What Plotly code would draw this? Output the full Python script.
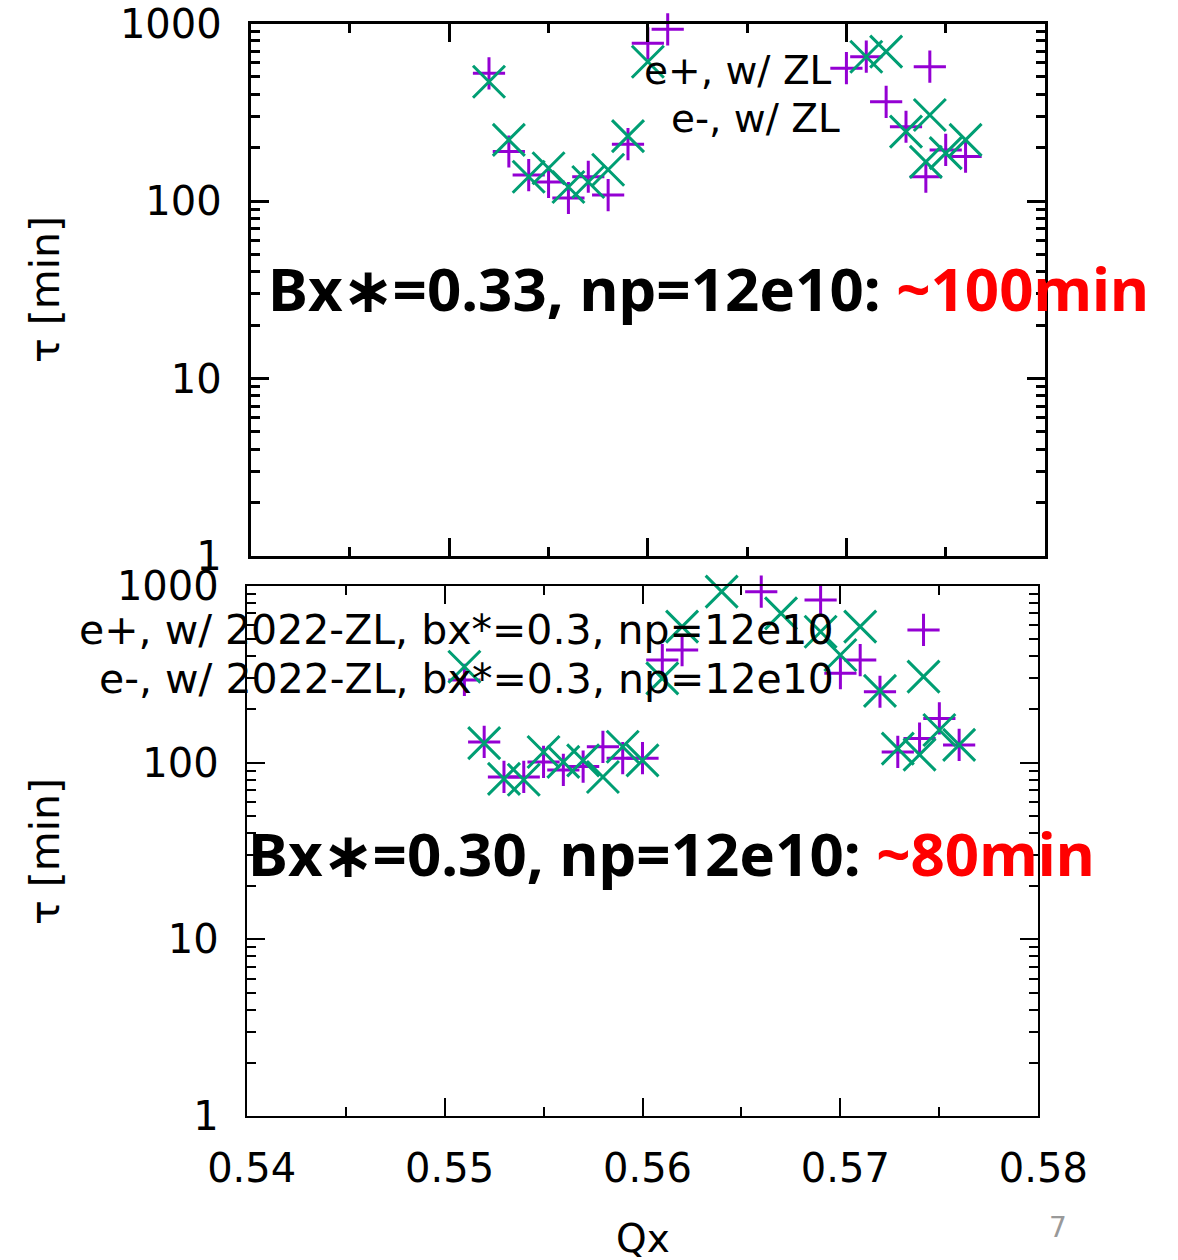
import plotly.graph_objects as go

# ---- data ----
qx_top_ep = [0.552, 0.553, 0.554, 0.555, 0.556, 0.557, 0.558, 0.559, 0.560, 0.561,
             0.570, 0.571, 0.572, 0.573, 0.574, 0.5742, 0.575, 0.576]
tau_top_ep = [524, 190, 140, 128, 104, 137, 108, 209, 773, 927,
              560, 650, 362, 262, 137, 571, 194, 178]
qx_top_em = [0.552, 0.553, 0.554, 0.555, 0.556, 0.557, 0.558, 0.559, 0.560,
             0.571, 0.572, 0.573, 0.574, 0.5742, 0.575, 0.576]
tau_top_em = [470, 221, 137, 153, 120, 128, 150, 232, 609,
              650, 694, 246, 166, 305, 186, 221]

qx_bot_ep = [0.551, 0.552, 0.553, 0.554, 0.555, 0.556, 0.557, 0.558, 0.559, 0.560, 0.561,
             0.562, 0.566, 0.569, 0.570, 0.571, 0.572, 0.5729, 0.574, 0.5742, 0.575, 0.576]
tau_bot_ep = [294, 131, 83, 83, 101, 91, 95, 123, 106, 106, 381,
              434, 929, 833, 321, 381, 252, 115, 137, 564, 178, 126]
qx_bot_em = [0.551, 0.552, 0.553, 0.554, 0.555, 0.556, 0.557, 0.558, 0.559, 0.560, 0.561,
             0.562, 0.564, 0.567, 0.569, 0.570, 0.571, 0.572, 0.5729, 0.574, 0.5742, 0.575, 0.576]
tau_bot_em = [349, 129, 81, 80, 115, 101, 103, 83, 123, 103, 300,
              589, 929, 700, 551, 407, 589, 255, 120, 111, 307, 153, 126]

x_ticks = [0.54, 0.55, 0.56, 0.57, 0.58]
y_ticks = [1, 10, 100, 1000]
y_minor = [m * d for d in (1, 10, 100) for m in range(2, 10)]

W, H = 1178, 1260
PURPLE = "#9400D3"
GREEN = "#009E73"
FONT = "DejaVu Sans"


def px(x):
    return x / W


def py(y):
    return 1 - y / H


fig = go.Figure()


def add_pair(xs1, ys1, xs2, ys2, xa, ya):
    fig.add_trace(go.Scatter(x=xs1, y=ys1, mode="markers", xaxis=xa, yaxis=ya,
                             marker=dict(symbol="cross-thin", size=23, color=PURPLE,
                                         line=dict(color=PURPLE, width=3)),
                             cliponaxis=False, showlegend=False))
    fig.add_trace(go.Scatter(x=xs2, y=ys2, mode="markers", xaxis=xa, yaxis=ya,
                             marker=dict(symbol="x-thin", size=32, color=GREEN,
                                         line=dict(color=GREEN, width=3)),
                             cliponaxis=False, showlegend=False))


add_pair(qx_top_ep, tau_top_ep, qx_top_em, tau_top_em, "x", "y")
add_pair(qx_bot_ep, tau_bot_ep, qx_bot_em, tau_bot_em, "x2", "y2")


def xaxis(dom, show_labels, lw):
    return dict(domain=dom, range=[0.54, 0.58], tickvals=x_ticks,
                ticktext=[f"{v:.2f}" for v in x_ticks], automargin=False,
                showticklabels=show_labels, ticks="inside", ticklen=18, tickwidth=lw,
                minor=dict(tickvals=[0.545, 0.555, 0.565, 0.575], ticks="inside",
                           ticklen=9, tickwidth=lw, tickcolor="black"),
                showline=True, linecolor="black", linewidth=lw, mirror="allticks",
                showgrid=False, zeroline=False, tickcolor="black",
                tickfont=dict(family=FONT, size=40, color="black"),
                ticklabelstandoff=16, ticklabelshift=5)


def yaxis(dom, anchor, lw):
    return dict(domain=dom, anchor=anchor, type="log", range=[0, 3], tickvals=y_ticks,
                ticktext=[str(v) for v in y_ticks], ticks="inside", ticklen=18,
                tickwidth=lw, tickcolor="black", automargin=False,
                minor=dict(tickvals=y_minor, ticks="inside", ticklen=9,
                           tickwidth=lw, tickcolor="black"),
                showline=True, linecolor="black", linewidth=lw, mirror="allticks",
                showgrid=False, zeroline=False,
                tickfont=dict(family=FONT, size=40, color="black"),
                ticklabelstandoff=18)


fig.update_layout(
    width=W, height=H, margin=dict(l=0, r=0, t=0, b=0, autoexpand=False),
    paper_bgcolor="white", plot_bgcolor="white",
    xaxis=xaxis([px(250.7), px(1045)], False, 3) | dict(anchor="y"),
    yaxis=yaxis([py(556), py(23.5)], "x", 3),
    xaxis2=xaxis([px(246.7), px(1038.3)], True, 2) | dict(anchor="y2"),
    yaxis2=yaxis([py(1116), py(586)], "x2", 2),
)

ann = []


def txt(x, y, s, size, xanchor="center", color="black", family=FONT, angle=0):
    ann.append(dict(x=px(x), y=py(y), xref="paper", yref="paper", text=s,
                    showarrow=False, xanchor=xanchor, yanchor="middle",
                    textangle=angle,
                    font=dict(family=family, size=size, color=color)))


# legends
txt(834, 70, "e+, w/ ZL", 39, xanchor="right")
txt(842, 118, "e-, w/ ZL", 39, xanchor="right")
txt(836, 630, "e+, w/ 2022-ZL, bx*=0.3, np=12e10", 41, xanchor="right")
txt(836, 679, "e-, w/ 2022-ZL, bx*=0.3, np=12e10", 41, xanchor="right")

# big annotations
txt(266, 288, "<b>Bx∗=0.33, np=12e10: <span style='color:#FF0000'>~100min</span></b>",
    60, xanchor="left", family="Noto Sans")
txt(246, 853, "<b>Bx∗=0.30, np=12e10: <span style='color:#FF0000'>~80min</span></b>",
    60, xanchor="left", family="Noto Sans")

# axis titles
txt(45, 290, "τ [min]", 41, angle=-90)
txt(45, 852, "τ [min]", 41, angle=-90)
txt(643, 1238, "Qx", 39)
txt(1058, 1227, "7", 28, color="#999999")

fig.update_layout(annotations=ann)
fig.write_html("out.html")
